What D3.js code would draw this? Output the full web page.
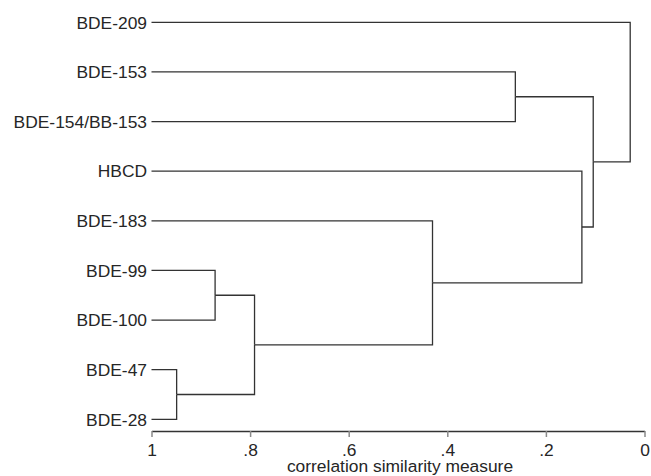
<!DOCTYPE html>
<html>
<head>
<meta charset="utf-8">
<script src="https://cdn.jsdelivr.net/npm/d3@7"></script>
<style>
  body { margin: 0; background: #fff; }
  text { font-family: "Liberation Sans", Arial, sans-serif; fill: #262626; }
</style>
</head>
<body>
<div id="container"></div>
<script>
const w = 651;
const h = 476;

// leaves, top to bottom
const leaves = ['BDE-209', 'BDE-153', 'BDE-154/BB-153', 'HBCD', 'BDE-183', 'BDE-99', 'BDE-100', 'BDE-47', 'BDE-28'];

// merges: ids 0-8 are leaves, merge i gets id 9 + i
const mergeLeft = [7, 5, 10, 4, 1, 3, 13, 0];
const mergeRight = [8, 6, 9, 11, 2, 12, 14, 15];
const mergeSim = [0.949, 0.871, 0.791, 0.430, 0.262, 0.127, 0.104, 0.029];

const tickValues = [1, 0.8, 0.6, 0.4, 0.2, 0];
const tickLabels = ['1', '.8', '.6', '.4', '.2', '0'];
const xTitle = 'correlation similarity measure';

const svg = d3.select('#container')
  .append('svg')
  .attr('width', w)
  .attr('height', h)
  .attr('viewBox', [0, 0, w, h]);

const x = d3.scaleLinear()
  .domain([1, 0])
  .range([151.5, 644.5]);

const y = d3.scalePoint()
  .domain(leaves)
  .range([22.3, 419.3]);

// build the tree from the merge list
const nodes = leaves.map(name => ({ name: name, sim: 1 }));
mergeSim.forEach((s, i) => {
  nodes.push({ sim: s, children: [nodes[mergeLeft[i]], nodes[mergeRight[i]]] });
});
const root = d3.hierarchy(nodes[nodes.length - 1]);

root.eachAfter(d => {
  d.px = x(d.data.sim);
  d.py = d.children ? d3.mean(d.children, c => c.py) : y(d.data.name);
});

const g = svg.append('g')
  .attr('fill', 'none')
  .attr('stroke', '#333')
  .attr('stroke-width', 1.3);

// elbow links: horizontal from child to parent, vertical at parent
g.selectAll('path')
  .data(root.links())
  .join('path')
  .attr('d', d => 'M' + d.target.px + ',' + d.target.py +
    'H' + d.source.px + 'V' + d.source.py);

svg.selectAll('.leaf')
  .data(root.leaves())
  .join('text')
  .attr('class', 'leaf')
  .attr('x', d => d.px - 4.5)
  .attr('y', d => d.py)
  .attr('dy', '0.36em')
  .attr('text-anchor', 'end')
  .style('font-size', '17.4px')
  .text(d => d.data.name);

const xAxis = d3.axisBottom(x)
  .tickValues(tickValues)
  .tickFormat((d, i) => tickLabels[i])
  .tickSize(6)
  .tickSizeOuter(0)
  .tickPadding(7);

const ax = svg.append('g')
  .attr('transform', 'translate(0,431)')
  .call(xAxis);

ax.select('.domain').attr('stroke', '#333').attr('stroke-width', 1.3);
ax.selectAll('.tick line').attr('stroke', '#8a8a8a').attr('stroke-width', 1.5);
ax.selectAll('.tick text')
  .style('font-size', '17.4px')
  .style('font-family', '"Liberation Sans", Arial, sans-serif')
  .attr('fill', '#262626');

svg.append('text')
  .attr('x', 400)
  .attr('y', 472)
  .attr('text-anchor', 'middle')
  .style('font-size', '17.4px')
  .text(xTitle);
</script>
</body>
</html>
